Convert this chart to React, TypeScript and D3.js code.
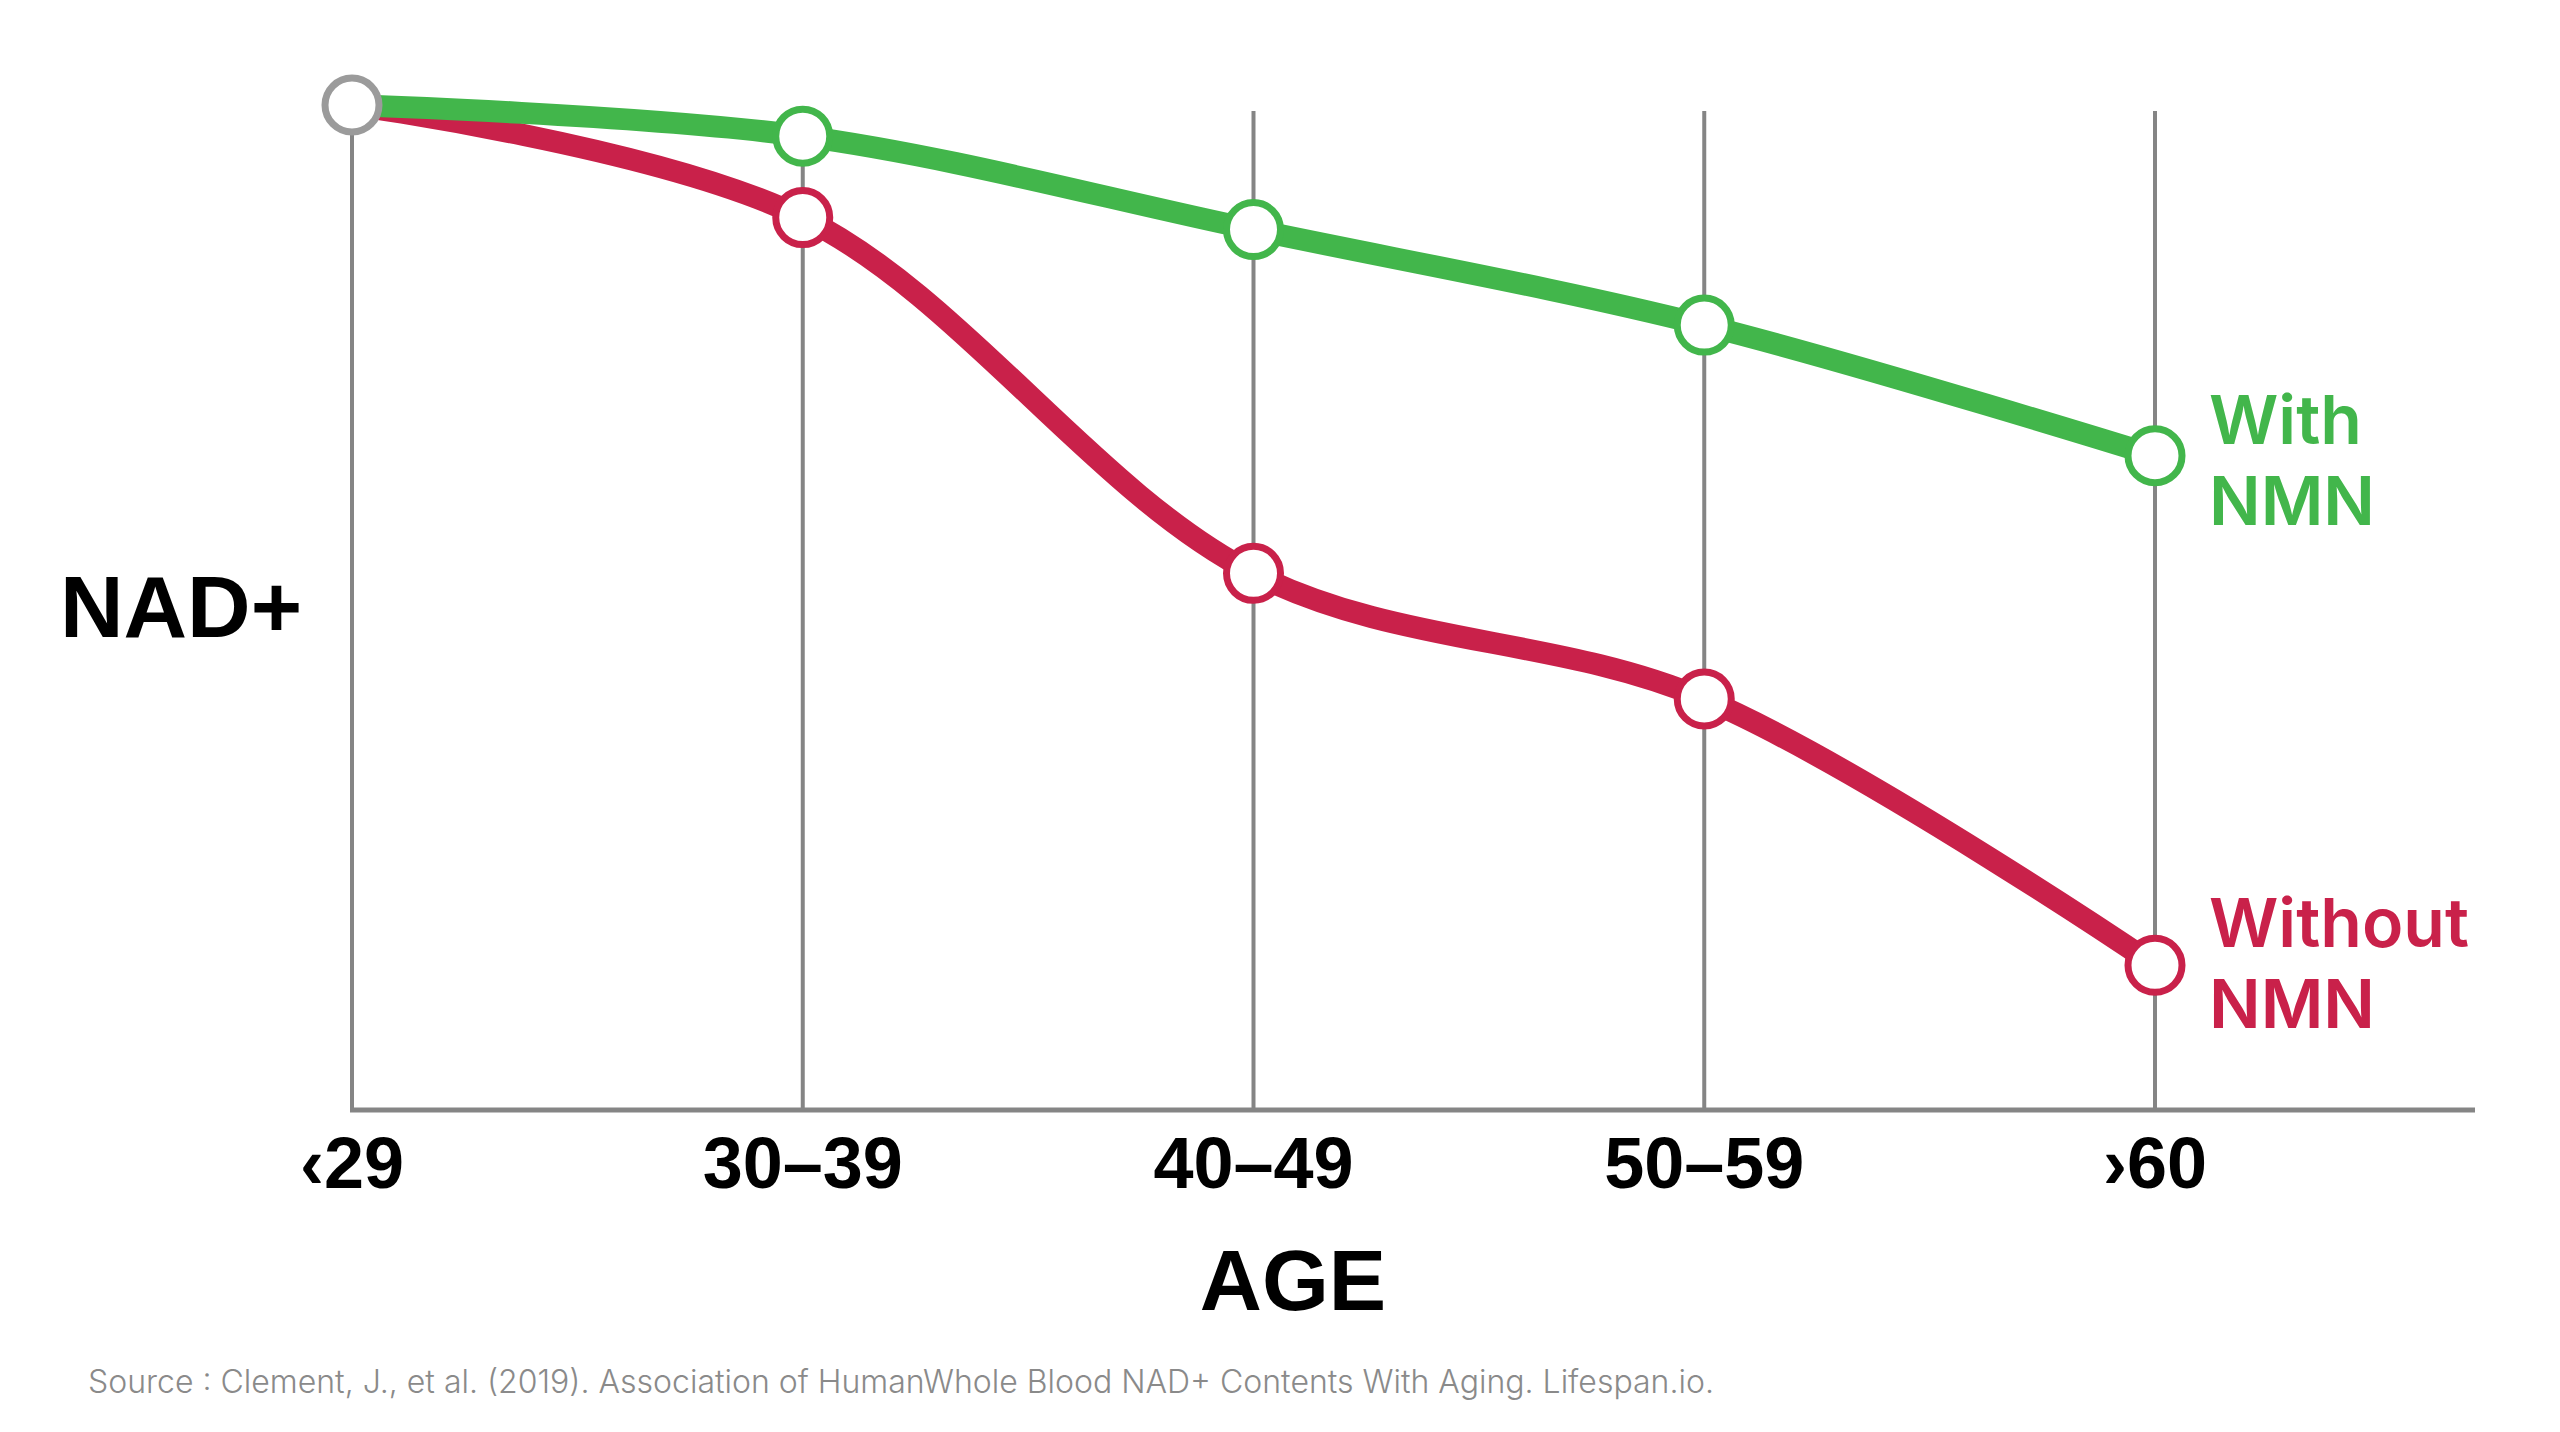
import React from "react";
import * as d3 from "d3";

const categories = ["‹29", "30–39", "40–49", "50–59", "›60"];
const withNMN = [100, 96.9, 87.6, 78.1, 65.1];
const withoutNMN = [100, 88.8, 53.4, 40.9, 14.4];
const seriesLabels = [["With", "NMN"], ["Without", "NMN"]];
const yTitle = "NAD+";
const xTitle = "AGE";
const sourceText =
  "Source : Clement, J., et al. (2019). Association of HumanWhole Blood NAD+ Contents With Aging. Lifespan.io.";

const W = 2560;
const H = 1432;
const GREEN = "#42b64b";
const RED = "#c9214a";
const GRID = "#858585";

export default function App() {
  const x = d3.scalePoint<string>().domain(categories).range([352, 2155]);
  const y = d3.scaleLinear().domain([0, 100]).range([1110, 105]);

  const line = d3
    .line<number>()
    .x((_, i) => x(categories[i]) as number)
    .y((d) => y(d))
    .curve(d3.curveCatmullRom.alpha(0.5));

  const sans = "'Liberation Sans', Arial, sans-serif";
  const labelFont = "Inter, 'Open Sans', sans-serif";
  const lastX = x(categories[categories.length - 1]) as number;

  return (
    <svg
      width={W}
      height={H}
      viewBox={`0 0 ${W} ${H}`}
      style={{ position: "absolute", left: 0, top: 0, background: "#fff" }}
    >
      {/* vertical grid lines */}
      {categories.map((c, i) => (
        <line
          key={c}
          x1={x(c)}
          x2={x(c)}
          y1={i === 0 ? y(100) : y(100) + 6}
          y2={y(0)}
          stroke={GRID}
          strokeWidth={4}
        />
      ))}
      {/* baseline */}
      <line
        x1={(x(categories[0]) as number) - 2}
        x2={2475}
        y1={y(0)}
        y2={y(0)}
        stroke={GRID}
        strokeWidth={5}
      />

      {/* lines */}
      <path d={line(withoutNMN) || ""} fill="none" stroke={RED} strokeWidth={22} />
      <path d={line(withNMN) || ""} fill="none" stroke={GREEN} strokeWidth={22} />

      {/* markers */}
      {withoutNMN.map((v, i) =>
        i === 0 ? null : (
          <circle
            key={"r" + i}
            cx={x(categories[i])}
            cy={y(v)}
            r={27}
            fill="#fff"
            stroke={RED}
            strokeWidth={7}
          />
        )
      )}
      {withNMN.map((v, i) =>
        i === 0 ? null : (
          <circle
            key={"g" + i}
            cx={x(categories[i])}
            cy={y(v)}
            r={27}
            fill="#fff"
            stroke={GREEN}
            strokeWidth={7}
          />
        )
      )}
      <circle
        cx={x(categories[0])}
        cy={y(withNMN[0])}
        r={27}
        fill="#fff"
        stroke="#9b9b9b"
        strokeWidth={7}
      />

      {/* series labels */}
      <text
        x={lastX + 54}
        y={y(withNMN[4]) - 12}
        fill={GREEN}
        fontFamily={labelFont}
        fontWeight={600}
        fontSize={68}
      >
        <tspan x={lastX + 54}>{seriesLabels[0][0]}</tspan>
        <tspan x={lastX + 54} dy={81}>{seriesLabels[0][1]}</tspan>
      </text>
      <text
        x={lastX + 54}
        y={y(withoutNMN[4]) - 18}
        fill={RED}
        fontFamily={labelFont}
        fontWeight={600}
        fontSize={68}
      >
        <tspan x={lastX + 54}>{seriesLabels[1][0]}</tspan>
        <tspan x={lastX + 54} dy={81}>{seriesLabels[1][1]}</tspan>
      </text>

      {/* tick labels */}
      {categories.map((c) => (
        <text
          key={"t" + c}
          x={x(c)}
          y={1188}
          textAnchor="middle"
          fontFamily={sans}
          fontWeight={700}
          fontSize={72}
          fill="#000"
        >
          {c}
        </text>
      ))}

      {/* axis titles */}
      <text x={60} y={637} fontFamily={sans} fontWeight={700} fontSize={88} fill="#000">
        {yTitle}
      </text>
      <text
        x={1293}
        y={1310}
        textAnchor="middle"
        fontFamily={sans}
        fontWeight={700}
        fontSize={86}
        fill="#000"
      >
        {xTitle}
      </text>

      {/* source */}
      <text x={88} y={1393} fontFamily={labelFont} fontWeight={300} fontSize={32} fill="#8a8a8a">
        {sourceText}
      </text>
    </svg>
  );
}
